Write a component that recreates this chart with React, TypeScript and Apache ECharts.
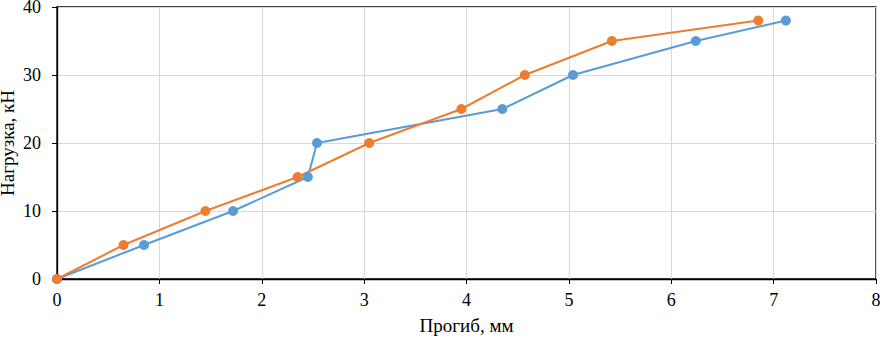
import React, { useEffect, useRef } from "react";
import * as echarts from "echarts";

const loadLevels = [0, 5, 10, 15, 20, 25, 30, 35, 38];
const deflectionBlue = [0, 0.85, 1.72, 2.45, 2.54, 4.35, 5.04, 6.24, 7.12];
const deflectionOrange = [0, 0.65, 1.45, 2.35, 3.05, 3.95, 4.57, 5.42, 6.85];
const xTitle = "Прогиб, мм";
const yTitle = "Нагрузка, кН";

const font = "Liberation Serif";

export default function App() {
  const ref = useRef<HTMLDivElement>(null);
  useEffect(() => {
    if (!ref.current) return;
    const chart = echarts.init(ref.current, undefined, { renderer: "svg" });
    const mk = (xs: number[]) => xs.map((x, i) => [x, loadLevels[i]]);
    chart.setOption({
      animation: false,
      backgroundColor: "#ffffff",
      textStyle: { fontFamily: font },
      grid: {
        left: 57,
        right: 4,
        top: 7,
        bottom: 60,
        containLabel: false,
        outerBoundsMode: "none",
        show: true,
        borderColor: "#000",
        borderWidth: 1.3,
      },
      xAxis: {
        type: "value",
        min: 0,
        max: 8,
        interval: 1,
        name: xTitle,
        nameLocation: "middle",
        nameGap: 37,
        nameTextStyle: { fontFamily: font, fontSize: 19, color: "#000" },
        axisLine: { show: true, lineStyle: { color: "#000", width: 1.3 } },
        axisTick: { show: true, length: 5, lineStyle: { color: "#000" } },
        axisLabel: { fontFamily: font, fontSize: 18, color: "#000", margin: 12 },
        splitLine: { show: true, lineStyle: { color: "#d9d9d9", width: 1 } },
      },
      yAxis: {
        type: "value",
        min: 0,
        max: 40,
        interval: 10,
        name: yTitle,
        nameLocation: "middle",
        nameGap: 40,
        nameMoveOverlap: false,
        nameTextStyle: { fontFamily: font, fontSize: 19, color: "#000" },
        axisLine: { show: true, lineStyle: { color: "#000", width: 1.3 } },
        axisTick: { show: true, length: 5, lineStyle: { color: "#000" } },
        axisLabel: { fontFamily: font, fontSize: 18, color: "#000", margin: 16 },
        splitLine: { show: true, lineStyle: { color: "#d9d9d9", width: 1 } },
      },
      series: [
        {
          type: "line",
          data: mk(deflectionBlue),
          symbol: "circle",
          symbolSize: 10,
          itemStyle: { color: "#5B9BD5" },
          lineStyle: { color: "#5B9BD5", width: 2 },
        },
        {
          type: "line",
          data: mk(deflectionOrange),
          symbol: "circle",
          symbolSize: 10,
          itemStyle: { color: "#ED7D31" },
          lineStyle: { color: "#ED7D31", width: 2 },
        },
      ],
    });
    return () => chart.dispose();
  }, []);
  return (
    <div
      ref={ref}
      style={{ position: "fixed", left: 0, top: 0, width: 880, height: 339, background: "#fff" }}
    />
  );
}
